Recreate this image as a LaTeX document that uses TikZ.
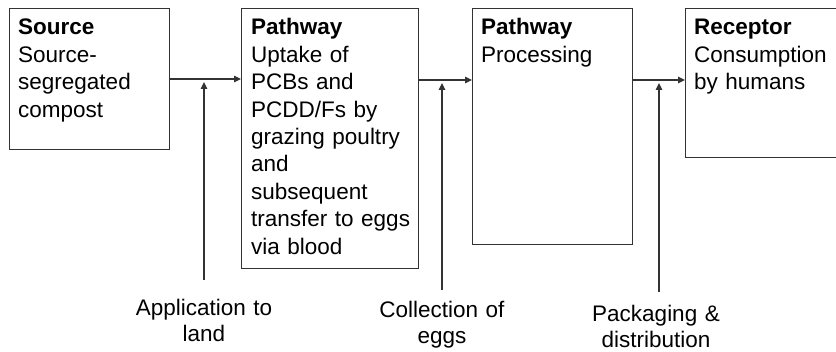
\documentclass[tikz,border=0pt]{standalone}
\usepackage{fontspec}
\setmainfont{Liberation Sans}
\usetikzlibrary{arrows.meta}
\begin{document}
\begin{tikzpicture}[x=1pt,y=-1pt,
  box/.style={draw=black!80, line width=1.2pt, rectangle, inner sep=0pt, anchor=north west},
  txt/.style={inner sep=0pt, anchor=base west, text width=220pt, align=left,
    font=\fontsize{22.5}{27.4}\selectfont},
  lbl/.style={inner sep=0pt, anchor=base, text width=200pt, align=center,
    font=\fontsize{22.5}{26}\selectfont},
  conn/.style={draw=black!80, line width=1.2pt},
  arr/.style={conn, -{Triangle[length=7pt,width=6.5pt]}}]
\useasboundingbox (0,0) rectangle (836,352);
% boxes
\node[box, minimum width=160pt, minimum height=141pt] (src) at (9,8) {};
\node[box, minimum width=177pt, minimum height=260pt] (pw1) at (241,8) {};
\node[box, minimum width=160pt, minimum height=236pt] (pw2) at (472,8) {};
\node[box, minimum width=160pt, minimum height=149pt] (rec) at (685,8) {};
% box texts
\node[txt] (tsrc) at ([shift={(9,27)}]src.north west)
  {\textbf{Source}\\Source-\\segregated\\compost};
\node[txt] (tpw1) at ([shift={(10,27)}]pw1.north west)
  {\textbf{Pathway}\\Uptake of\\PCBs and\\PCDD/Fs by\\grazing poultry\\and\\subsequent\\transfer to eggs\\via blood};
\node[txt] (tpw2) at ([shift={(9,27)}]pw2.north west)
  {\textbf{Pathway}\\Processing};
\node[txt] (trec) at ([shift={(9,27)}]rec.north west)
  {\textbf{Receptor}\\Consumption\\by humans};
% main arrows
\coordinate (h1) at (169,79);
\coordinate (h2) at (418,80);
\coordinate (h3) at (632,80);
\draw[arr] (h1) -- (h1 -| pw1.west);
\draw[arr] (h2) -- (h2 -| pw2.west);
\draw[arr] (h3) -- (h3 -| rec.west);
% side labels
\node[lbl] (l1) at (204,316) {Application to\\land};
\node[lbl] (l2) at (442,318) {Collection of\\eggs};
\node[lbl] (l3) at (656,322) {Packaging \&\\distribution};
\coordinate (v1) at (204,280);
\coordinate (v2) at (442,290);
\coordinate (v3) at (659,292);
\draw[arr] (v1) -- (204,82);
\draw[arr] (v2) -- (442,83);
\draw[arr] (v3) -- (659,83);
\end{tikzpicture}
\end{document}
